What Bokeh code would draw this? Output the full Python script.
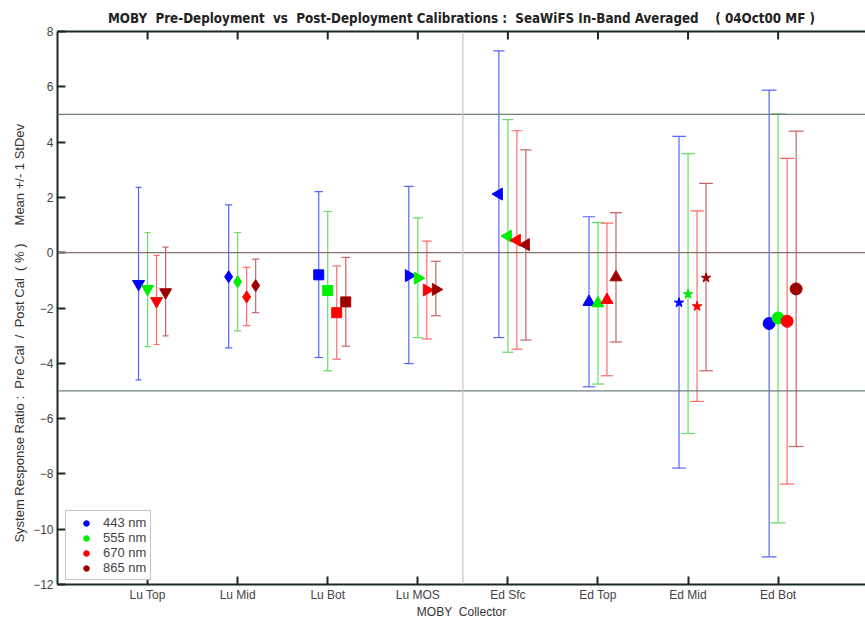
import math
from bokeh.plotting import figure
from bokeh.models import Span, LinearAxis, FixedTicker, Legend, LegendItem, Range1d
from bokeh.embed import file_html
from bokeh.resources import INLINE

collectors = ["Lu Top", "Lu Mid", "Lu Bot", "Lu MOS", "Ed Sfc", "Ed Top", "Ed Mid", "Ed Bot"]
bands = ["443 nm", "555 nm", "670 nm", "865 nm"]

mean_443 = [-1.13, -0.87, -0.80, -0.83, 2.12, -1.78, -1.81, -2.56]
upper_443 = [2.36, 1.73, 2.21, 2.40, 7.30, 1.30, 4.21, 5.88]
lower_443 = [-4.60, -3.44, -3.79, -4.01, -3.07, -4.85, -7.79, -11.00]

mean_555 = [-1.31, -1.05, -1.37, -0.92, 0.60, -1.83, -1.50, -2.36]
upper_555 = [0.73, 0.73, 1.49, 1.26, 4.81, 1.09, 3.58, 5.02]
lower_555 = [-3.40, -2.83, -4.27, -3.07, -3.60, -4.75, -6.54, -9.77]

mean_670 = [-1.75, -1.60, -2.17, -1.35, 0.45, -1.71, -1.94, -2.48]
upper_670 = [-0.10, -0.53, -0.48, 0.42, 4.41, 1.07, 1.51, 3.41]
lower_670 = [-3.32, -2.64, -3.85, -3.12, -3.49, -4.45, -5.38, -8.37]

mean_865 = [-1.43, -1.19, -1.78, -1.33, 0.29, -0.89, -0.91, -1.31]
upper_865 = [0.20, -0.23, -0.17, -0.31, 3.72, 1.45, 2.51, 4.40]
lower_865 = [-3.01, -2.17, -3.38, -2.28, -3.16, -3.23, -4.27, -7.01]

y_ticks = [-12, -10, -8, -6, -4, -2, 0, 2, 4, 6, 8]

NB = "\u00a0"


def keep_spaces(s):
    return s.replace(" ", NB)


title_text = "MOBY  Pre-Deployment  vs  Post-Deployment Calibrations :  SeaWiFS In-Band Averaged    ( 04Oct00 MF )"
ylabel_text = "System Response Ratio :  Pre Cal  /  Post Cal  ( % )     Mean +/- 1 StDev"
xlabel_text = "MOBY  Collector"

series = [
    (mean_443, upper_443, lower_443, "#0000ff", "#5566ff"),
    (mean_555, upper_555, lower_555, "#00ee00", "#66dd66"),
    (mean_670, upper_670, lower_670, "#ff0000", "#ff6a6a"),
    (mean_865, upper_865, lower_865, "#9e0000", "#c26666"),
]
markers = [("inverted_triangle", 0.0), ("diamond", 0.0), ("square", 0.0),
           ("triangle", -math.pi / 2), ("triangle", math.pi / 2), ("triangle", 0.0),
           ("star", 0.0), ("circle", 0.0)]
msize = [12, 12, 10, 12, 12, 12, 10, 12]

TXT = "#444444"
FONT = "Liberation Sans"
DARK = "#1a2a22"

p = figure(width=865, height=621, output_backend="svg", toolbar_location=None,
           x_range=Range1d(0, 8.97), y_range=Range1d(-12, 8),
           min_border_left=57, min_border_right=0, min_border_top=31, min_border_bottom=36)
p.outline_line_color = None
p.xgrid.visible = False
p.ygrid.visible = False
p.background_fill_color = "white"

p.title.text = keep_spaces(title_text)
p.title.align = "center"
p.title.text_font = "DejaVu Sans Condensed"
p.title.text_font_size = "13.3px"
p.title.text_font_style = "bold"
p.title.text_color = "#222222"
p.title.standoff = 11

# reference lines
for yv, col in [(5, "#6f7f7f"), (0, "#8a6f6f"), (-5, "#6f7f7f")]:
    p.add_layout(Span(location=yv, dimension="width", line_color=col, line_width=1.2))
p.add_layout(Span(location=4.5, dimension="height", line_color="#c4c4c4", line_width=1.2))

xcat = list(range(1, len(collectors) + 1))

# top tick marks (inward), 8 px long
tick_len = 8 * 20.0 / 554
p.segment(x0=xcat, x1=xcat, y0=[8] * len(xcat), y1=[8 - tick_len] * len(xcat),
          line_color=DARK, line_width=2)

offsets = [-0.1, 0.0, 0.1, 0.2]
legend_renderers = []
for k, (m, up, lo, mcol, bcol) in enumerate(series):
    xs = [x + offsets[k] for x in xcat]
    caps = [0.026 + 0.0071 * x for x in xcat]
    p.segment(x0=xs, x1=xs, y0=lo, y1=up, line_color=bcol, line_width=1.2)
    p.segment(x0=[a - c for a, c in zip(xs, caps)], x1=[a + c for a, c in zip(xs, caps)],
              y0=up, y1=up, line_color=bcol, line_width=1.2)
    p.segment(x0=[a - c for a, c in zip(xs, caps)], x1=[a + c for a, c in zip(xs, caps)],
              y0=lo, y1=lo, line_color=bcol, line_width=1.2)
    for i in range(len(collectors)):
        mk, ang = markers[i]
        r = p.scatter(x=[xs[i]], y=[m[i]], marker=mk, angle=ang, size=msize[i],
                      fill_color=mcol, line_color=mcol)
        if mk == "circle":
            legend_renderers.append(r)

legend = Legend(items=[LegendItem(label=b, renderers=[r]) for b, r in zip(bands, legend_renderers)],
                location=(8, 4), label_text_font=FONT, label_text_font_size="13px",
                label_text_color=TXT, glyph_height=14, glyph_width=32, label_height=14,
                spacing=0, padding=4, margin=0, label_standoff=1,
                border_line_color="#888888", border_line_width=1)
p.add_layout(legend)

# axes
p.xaxis.ticker = FixedTicker(ticks=xcat)
p.xaxis.major_label_overrides = {i: c for i, c in zip(xcat, collectors)}
p.xaxis.axis_label = keep_spaces(xlabel_text)
p.yaxis.ticker = FixedTicker(ticks=y_ticks)
p.yaxis.axis_label = keep_spaces(ylabel_text) + NB * 14

for ax in [p.xaxis[0], p.yaxis[0]]:
    ax.axis_line_color = DARK
    ax.axis_line_width = 2
    ax.major_tick_line_color = DARK
    ax.major_tick_line_width = 2
    ax.major_tick_in = 8
    ax.major_tick_out = 0
    ax.minor_tick_line_color = None
    ax.major_label_text_font = FONT
    ax.major_label_text_font_size = "12px"
    ax.major_label_text_color = TXT
    ax.axis_label_text_font = FONT
    ax.axis_label_text_font_size = "12px"
    ax.axis_label_text_font_style = "normal"
    ax.axis_label_text_color = "#333333"
p.yaxis.axis_label_text_font_size = "13px"
p.xaxis.major_label_standoff = 3
p.xaxis.axis_label_standoff = 0
p.yaxis.major_label_standoff = 4
p.yaxis.axis_label_standoff = 3

top = LinearAxis(ticker=FixedTicker(ticks=[]), axis_line_color=DARK, axis_line_width=2,
                 major_tick_line_color=None, minor_tick_line_color=None,
                 major_label_text_font_size="1px", major_label_standoff=0)
p.add_layout(top, "above")

open("out.html", "w").write(file_html(p, INLINE))
